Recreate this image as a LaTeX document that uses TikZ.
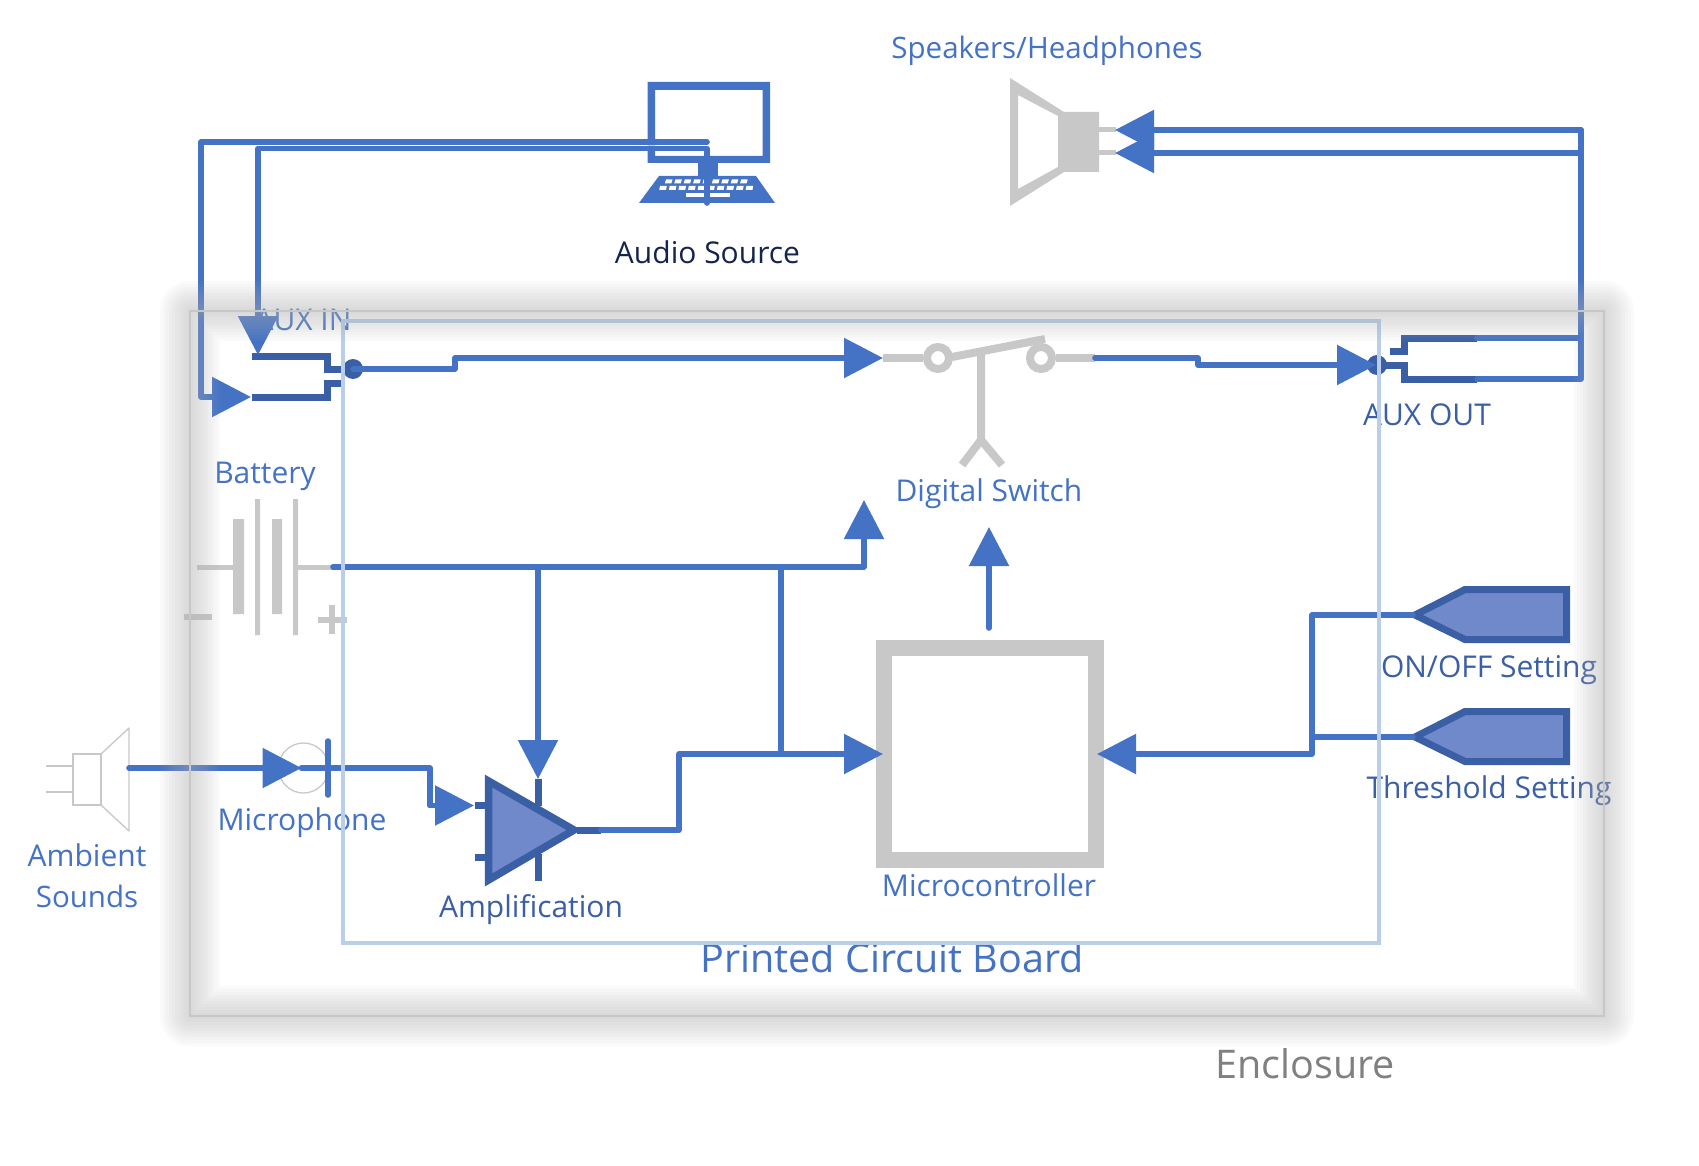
\documentclass[tikz,border=0pt]{standalone}
\usepackage{fontspec}
\setmainfont{Open Sans}
\usetikzlibrary{arrows.meta}
\definecolor{wireblue}{HTML}{4472C4}
\definecolor{darkblue}{HTML}{3A5FA5}
\definecolor{fillblue}{HTML}{7089CB}
\definecolor{icongray}{HTML}{C8C8C8}
\definecolor{pcbblue}{HTML}{B8CEE9}
\definecolor{navy}{HTML}{14244F}
\tikzset{
  x=1pt,y=-1pt,
  wire/.style={draw=wireblue,line width=5.6pt,line join=round,line cap=round},
  arrowwire/.style={wire,-{Triangle[length=39pt,width=39pt]}},
  jack/.style={draw=darkblue,line width=7pt,line join=miter},
  iconline/.style={draw=icongray,line width=8pt},
  thinicon/.style={draw=icongray,line width=1.3pt},
  lbl/.style={text=wireblue,font=\fontsize{30}{34}\selectfont,inner sep=0pt},
  lbldark/.style={lbl,text=darkblue},
  setting/.style={draw=darkblue,fill=fillblue,line width=7pt,line join=miter},
}
\begin{document}
\begin{tikzpicture}
\useasboundingbox[fill=white] (0,0) rectangle (1699,1166);

% labels
\node[lbl,font=\fontsize{29.5}{34}\selectfont] (lSpk) at (1047,51) {Speakers/Headphones};
\node[lbl,text=navy] (lAudio) at (707.5,252.5) {Audio Source};
\node[lbl] (lAuxIn) at (303,320) {AUX IN};
\node[lbldark] (lAuxOut) at (1427,415) {AUX OUT};
\node[lbl] (lBatt) at (265,476) {Battery};
\node[lbl] (lSwitch) at (989,494) {Digital Switch};
\node[lbldark] (lOnOff) at (1489,670) {ON/OFF Setting};
\node[lbldark] (lThresh) at (1489,791) {Threshold Setting};
\node[lbl] (lMic) at (302,823) {Microphone};
\node[lbl] (lAmb1) at (87,855) {Ambient};
\node[lbl,font=\fontsize{29.5}{34}\selectfont] (lAmb2) at (87,896) {Sounds};
\node[lbldark] (lAmp) at (531,910) {Amplification};
\node[lbl] (lMcu) at (989,885) {Microcontroller};
\node[lbl,font=\fontsize{39.5}{44}\selectfont] (lPcb) at (892,958) {Printed Circuit Board};
\node[lbl,text=gray,font=\fontsize{39.5}{44}\selectfont] (lEnc) at (1305,1064) {Enclosure};

% monitor + keyboard
\fill[wireblue,even odd rule] (647.5,82) rectangle (770,163) (655,90) rectangle (762.5,156);
\fill[wireblue] (697.5,163) rectangle (718,176);
\fill[wireblue] (659,176) -- (756,176) -- (775,203) -- (639,203) -- cycle;
\foreach \i in {0,...,8} {\fill[white] ({665+9.4*\i},179.5) ++(1,0) -- ++(6.5,0) -- ++(-1.2,4) -- ++(-6.5,0) -- cycle;}
\foreach \i in {0,...,9} {\fill[white] ({659+9.6*\i},186) ++(1,0) -- ++(6.8,0) -- ++(-.8,4) -- ++(-6.8,0) -- cycle;}
\fill[white] (686,193.5) rectangle (730,197);

% headphones speaker
\fill[icongray,even odd rule] (1010,78) -- (1064,112) -- (1099,112) -- (1099,172) -- (1064,172) -- (1010,206) -- cycle
  (1018,95) -- (1058,116) -- (1058,167) -- (1018,189) -- cycle;
\draw[icongray,line width=5pt] (1099,130) -- (1116,130) (1099,153) -- (1116,153);

% battery
\draw[icongray,line width=5pt] (197,567) -- (233,567) (298,567) -- (333,567);
\fill[icongray] (233,519) rectangle (244,614) (272,519) rectangle (282,614)
  (255,499) rectangle (260,635) (293,499) rectangle (298,635);
\draw[icongray,line width=6pt] (184,617) -- (212,617) (318,620) -- (347,620) (332,605) -- (332,634);

% ambient speaker
\draw[thinicon] (46,766) -- (73,766) (46,792) -- (73,792);
\draw[thinicon] (73,754) rectangle (101,805);
\draw[thinicon,line join=round] (101,754) -- (129,728) -- (129,831) -- (101,805);

% microphone
\node[draw=icongray,line width=1.3pt,circle,minimum size=50pt,inner sep=0pt] (mic) at (303.5,768) {};
\draw[wire] (328,741) -- (328,795);

% switch
\coordinate (swIn) at (883,358);
\coordinate (swOut) at (1095,358);
\node[circle,draw=icongray,line width=8pt,minimum size=22pt,inner sep=0pt,fill=white] (sw1) at (938,358) {};
\node[circle,draw=icongray,line width=8pt,minimum size=22pt,inner sep=0pt,fill=white] (sw2) at (1041,358) {};
\draw[iconline] (swIn) -- (sw1) (sw2) -- (swOut);
\draw[iconline] (952,357) -- (1045,339);
\draw[iconline] (981,353) -- (981,440) (962,465) -- (981,440) -- (1002,465);

% microcontroller
\node[draw=icongray,line width=16pt,minimum width=212pt,minimum height=212pt,inner sep=0pt] (mcu) at (990,754) {};

% amplifier
\draw[jack] (475,805) -- (485,805) (475,857) -- (485,857) (538,779) -- (538,806) (538,854) -- (538,881) (577,830) -- (601,830);
\draw[draw=darkblue,fill=fillblue,line width=7.5pt,line join=miter] (488.5,781) -- (574,830) -- (488.5,880) -- cycle;
\coordinate (ampOut) at (601,830);
\coordinate (ampIn) at (474,805.5);
\coordinate (ampTop) at (538,779);

% settings
\draw[setting] (1415,615) -- (1465,589.5) -- (1566.5,589.5) -- (1566.5,639.5) -- (1465,639.5) -- cycle;
\draw[setting] (1415,737) -- (1465,711.5) -- (1566.5,711.5) -- (1566.5,761.5) -- (1465,761.5) -- cycle;
\coordinate (set1) at (1413,615);
\coordinate (set2) at (1413,737);

% jacks
\draw[jack] (252,356) -- (327,356) -- (327,369) -- (342,369);
\draw[jack] (252,397) -- (327,397) -- (327,383) -- (342,383);
\node[circle,fill=darkblue,minimum size=20pt,inner sep=0pt] (jackIn) at (353,369) {};
\draw[jack] (1477,338) -- (1404,338) -- (1404,351) -- (1390,351);
\draw[jack] (1477,379) -- (1404,379) -- (1404,365) -- (1380,365);
\node[circle,fill=darkblue,minimum size=20pt,inner sep=0pt] (jackOut) at (1377,365) {};

% connectors
\coordinate (pcIn1) at (707,142);
\coordinate (pcIn2) at (707,203);
\coordinate (auxInA) at (251,397);
\coordinate (auxInB) at (258,355);
\coordinate (battEnd) at (333,567);
\coordinate (j1) at (538,567);
\coordinate (j2) at (781,567);
\draw[arrowwire] (pcIn1) -- (201,142) -- (201,397) -- (auxInA);
\draw[arrowwire] (pcIn2) -- (707,148.5) -- (258,148.5) -- (auxInB);
\draw[white,line width=.6pt,opacity=.7] (262,145.2) -- (700,145.2);
\draw[arrowwire] (1581,130) -- (1115,130);
\draw[arrowwire] (1581,153) -- (1115,153);
\draw[wire] (1477,338) -- (1581,338);
\draw[wire] (1581,130) -- (1581,379) -- (1477,379);
\draw[arrowwire] (jackIn.center) -- (455,369) -- (455,358) -- (883,358);
\draw[arrowwire] (swOut) -- (1198,358) -- (1198,365) -- (1376,365);
\draw[arrowwire] (battEnd) -- (864,567) -- (864,500);
\draw[arrowwire] (j1) -- (ampTop);
\draw[wire] (j2) -- (781,754);
\draw[arrowwire] (129,768) -- (301.5,768);
\draw[wire] (301.5,768) -- (430,768) -- (430,805.5) -- (440,805.5);
\draw[arrowwire] (430,805.5) -- (ampIn);
\draw[arrowwire] (ampOut) -- (679,830) -- (679,754) -- (883,754);
\draw[arrowwire] (989,628) -- (989,527);
\draw[arrowwire] (set1) -- (1312,615) -- (1312,754) -- (1097,754);
\draw[wire] (set2) -- (1312,737);

% PCB
\draw[pcbblue,line width=4pt] (342.5,321) rectangle (1379,943);

% enclosure with its soft shadow
\foreach \w in {6,12,...,60} {\draw[black!30,opacity=.055,line width=\w pt,line join=round] (190,311) rectangle (1604,1016);}
\draw[black!22,line width=1.2pt] (190,311) rectangle (1604,1016);
\end{tikzpicture}
\end{document}
